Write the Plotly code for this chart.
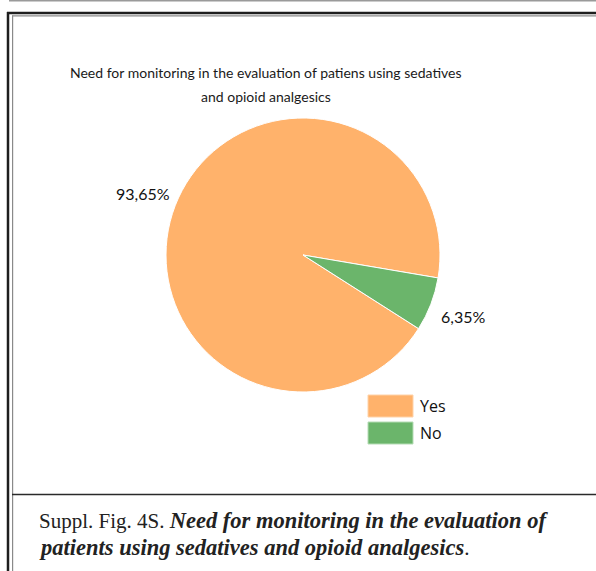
import math
import plotly.graph_objects as go

# ---- data ----
categories = ["Yes", "No"]
values = [93.65, 6.35]
colors = ["#FFB26B", "#6BB56B"]
title_lines = ["Need for monitoring in the evaluation of patiens using sedatives",
               "and opioid analgesics"]
caption_lines = ["Suppl. Fig. 4S. <span style='font-size:22.5px'><b><i>Need for monitoring in the evaluation of</i></b></span>",
                 "<span style='font-size:22.5px'><b><i>patients using sedatives and opioid analgesics</i></b></span>."]

W, H = 596, 571
ROTATION = 122.5
CX, CY, R = 303, 255, 137
LABEL_DIST = 1.255


def px(x):
    return x / W


def py(y):
    return 1 - y / H


labels_text = [f"{v:.2f}".replace(".", ",") + "%" for v in values]

fig = go.Figure()
fig.add_trace(go.Pie(
    labels=categories,
    values=values,
    textinfo="none",
    marker=dict(colors=colors, line=dict(color="white", width=1)),
    sort=False,
    direction="clockwise",
    rotation=ROTATION,
    showlegend=False,
    hoverinfo="label+percent",
    domain=dict(x=[px(CX - R), px(CX + R)], y=[py(CY + R), py(CY - R)]),
))

annotations = []
# data labels placed outside each slice at its mid-angle
total = sum(values)
cum = 0.0
for v, t in zip(values, labels_text):
    mid = ROTATION + (cum + v / 2) / total * 360.0  # clockwise from 12 o'clock
    a = math.radians(mid)
    lx = CX + LABEL_DIST * R * math.sin(a)
    ly = CY - LABEL_DIST * R * math.cos(a)
    annotations.append(dict(text=t, xref="paper", yref="paper", x=px(lx), y=py(ly),
                            xanchor="center", yanchor="middle", showarrow=False,
                            font=dict(family="Lato", size=16, color="#111111")))
    cum += v

shapes = []
# frame lines
shapes.append(dict(type="line", xref="paper", yref="paper", x0=px(9), x1=px(596), y0=py(0.7), y1=py(0.7),
                   line=dict(color="#9a9a9a", width=1.5)))
shapes.append(dict(type="line", xref="paper", yref="paper", x0=px(7), x1=px(596), y0=py(13), y1=py(13),
                   line=dict(color="#1e1e1e", width=2.5)))
shapes.append(dict(type="line", xref="paper", yref="paper", x0=px(8), x1=px(8), y0=py(12), y1=py(571),
                   line=dict(color="#1e1e1e", width=2.5)))
shapes.append(dict(type="line", xref="paper", yref="paper", x0=px(12), x1=px(596), y0=py(15.8), y1=py(15.8),
                   line=dict(color="#8a8a8a", width=1.2)))
shapes.append(dict(type="line", xref="paper", yref="paper", x0=px(12.6), x1=px(12.6), y0=py(15.5), y1=py(571),
                   line=dict(color="#8a8a8a", width=1.2)))
shapes.append(dict(type="line", xref="paper", yref="paper", x0=px(12), x1=px(596), y0=py(494.5), y1=py(494.5),
                   line=dict(color="#2a2a2a", width=1.5)))

# legend swatches
legend_top = [395, 422]
legend_border = ["#FFD2A8", "#B5DCB5"]
for i, cat in enumerate(categories):
    t = legend_top[i]
    shapes.append(dict(type="rect", xref="paper", yref="paper",
                       x0=px(368), x1=px(413), y0=py(t + 22), y1=py(t),
                       fillcolor=colors[i], line=dict(color=legend_border[i], width=1)))
    annotations.append(dict(text=cat, xref="paper", yref="paper", x=px(418), y=py(t + 11),
                            xanchor="left", yanchor="middle", showarrow=False,
                            font=dict(family="Open Sans", size=16, color="#111111")))

# title
for i, line in enumerate(title_lines):
    annotations.append(dict(text=line, xref="paper", yref="paper", x=px(266), y=py(72 + 25 * i),
                            xanchor="center", yanchor="middle", showarrow=False,
                            font=dict(family="Lato", size=14, color="#1a1a1a")))

# caption
for i, line in enumerate(caption_lines):
    annotations.append(dict(text=line, xref="paper", yref="paper", x=px(37), y=py(520 + 27 * i),
                            xanchor="left", yanchor="middle", showarrow=False,
                            font=dict(family="Liberation Serif", size=21, color="#222222")))

fig.update_layout(
    width=W, height=H,
    margin=dict(l=0, r=0, t=0, b=0),
    paper_bgcolor="white",
    plot_bgcolor="white",
    shapes=shapes,
    annotations=annotations,
)

fig.write_html("out.html",
               config={"displayModeBar": False},
               post_script="document.body.style.margin='0';document.body.style.overflow='hidden';")
